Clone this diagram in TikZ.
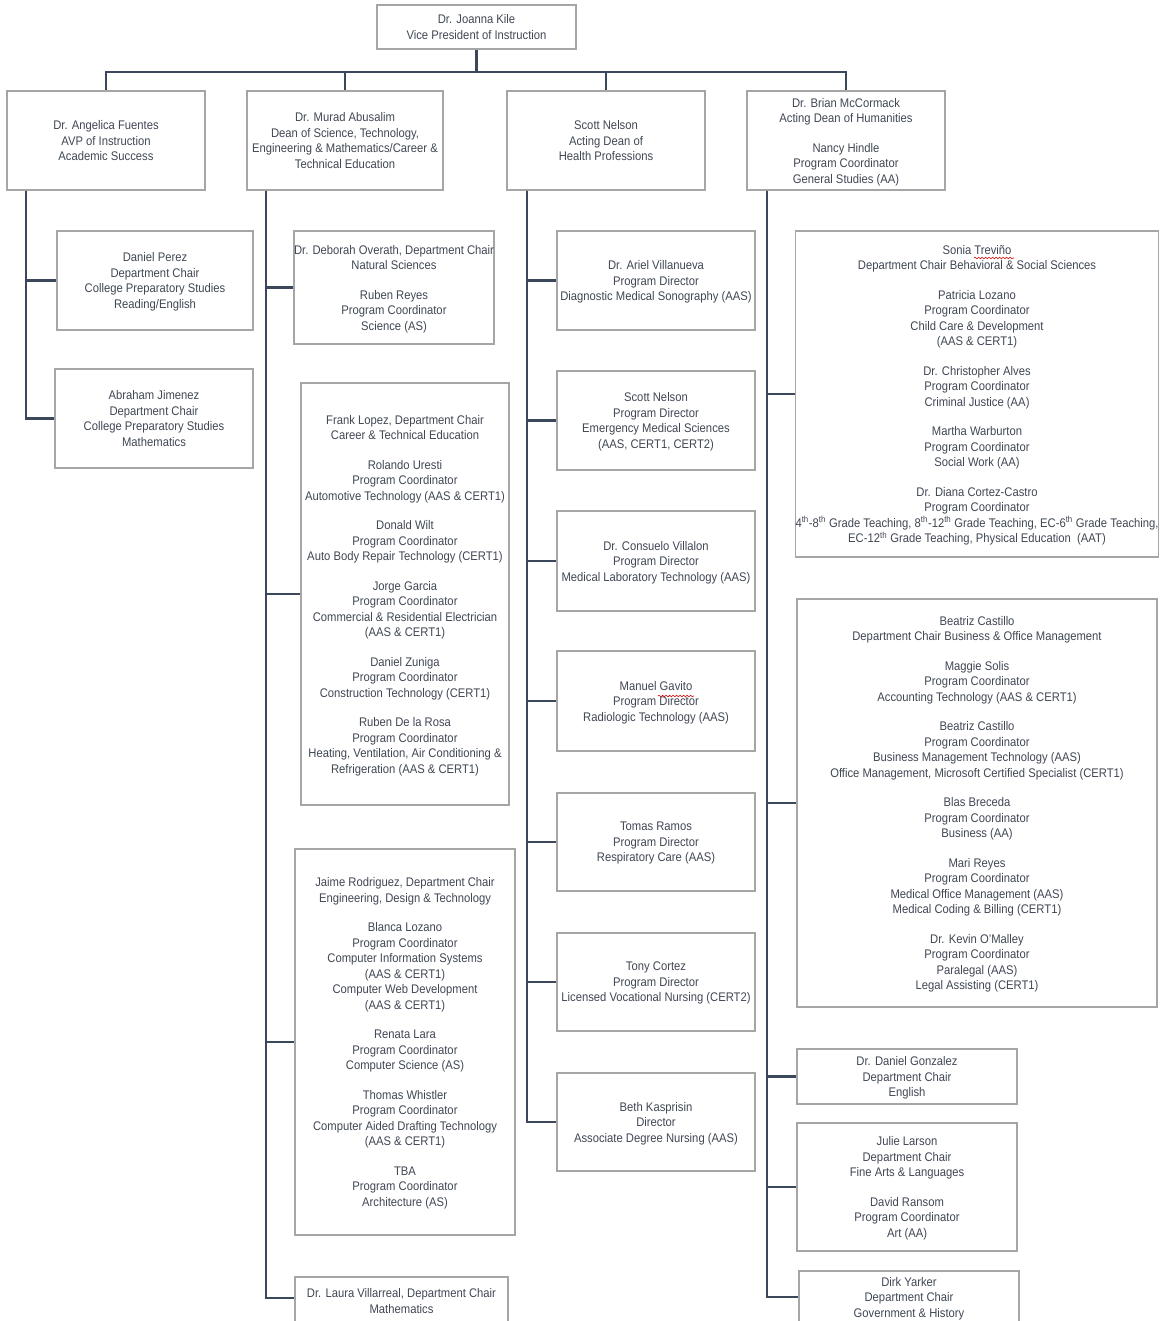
\documentclass[tikz,border=0pt]{standalone}
\usepackage{fontspec}
\setmainfont{Liberation Sans}[FakeStretch=0.9]
\usetikzlibrary{decorations.pathmorphing}
\definecolor{boxgray}{RGB}{166,166,166}
\definecolor{linkslate}{RGB}{59,71,90}
\definecolor{txtslate}{RGB}{64,72,84}
\tikzset{
    box/.style={draw=boxgray,line width=1.5pt,fill=white,inner sep=0pt,align=center,
        text=txtslate,font=\fontsize{12.5}{15.5}\selectfont,text depth=-4pt},
    boxsize/.style 2 args={minimum width=#1pt,minimum height=#2pt},
    link/.style={draw=linkslate,line width=2.4pt},
    squiggle/.style={draw=red!85!black,line width=0.6pt,decorate,
        decoration={snake,amplitude=0.8pt,segment length=3.5pt}}
}

\begin{document}
\begin{tikzpicture}[x=1pt,y=-1pt]
    \useasboundingbox (0,0) rectangle (1159,1321);
    % top
    \node[box,boxsize={199}{44}] (vp) at (476.5,27) {Dr. Joanna Kile\\Vice President of Instruction};
    \node[box,boxsize={198}{99}] (avp) at (106,140.5) {Dr. Angelica Fuentes\\AVP of Instruction\\Academic Success};
    \node[box,boxsize={196}{99}] (stem) at (345,140.5) {Dr. Murad Abusalim\\Dean of Science, Technology,\\Engineering \& Mathematics/Career \&\\Technical Education};
    \node[box,boxsize={198}{99}] (hp) at (606,140.5) {Scott Nelson\\Acting Dean of\\Health Professions};
    \node[box,boxsize={198}{99}] (hum) at (846,140.5) {Dr. Brian McCormack\\Acting Dean of Humanities\\[14pt]Nancy Hindle\\Program Coordinator\\General Studies (AA)};
    % academic success
    \node[box,boxsize={196}{99}] (a1) at (155,280.5) {Daniel Perez\\Department Chair\\College Preparatory Studies\\Reading/English};
    \node[box,boxsize={198}{99}] (a2) at (154,418.5) {Abraham Jimenez\\Department Chair\\College Preparatory Studies\\Mathematics};
    % stem
    \node[box,boxsize={198}{113}] (b1) at (394,287.5) {Dr. Deborah Overath, Department Chair\\Natural Sciences\\[14pt]Ruben Reyes\\Program Coordinator\\Science (AS)};
    \node[box,boxsize={208}{422}] (b2) at (405,594) {Frank Lopez, Department Chair\\Career \& Technical Education\\[14pt]Rolando Uresti\\Program Coordinator\\Automotive Technology (AAS \& CERT1)\\[14pt]Donald Wilt\\Program Coordinator\\Auto Body Repair Technology (CERT1)\\[14pt]Jorge Garcia\\Program Coordinator\\Commercial \& Residential Electrician\\(AAS \& CERT1)\\[14pt]Daniel Zuniga\\Program Coordinator\\Construction Technology (CERT1)\\[14pt]Ruben De la Rosa\\Program Coordinator\\Heating, Ventilation, Air Conditioning \&\\Refrigeration (AAS \& CERT1)};
    \node[box,boxsize={220}{386}] (b3) at (405,1042) {Jaime Rodriguez, Department Chair\\Engineering, Design \& Technology\\[14pt]Blanca Lozano\\Program Coordinator\\Computer Information Systems\\(AAS \& CERT1)\\Computer Web Development\\(AAS \& CERT1)\\[14pt]Renata Lara\\Program Coordinator\\Computer Science (AS)\\[14pt]Thomas Whistler\\Program Coordinator\\Computer Aided Drafting Technology\\(AAS \& CERT1)\\[14pt]TBA\\Program Coordinator\\Architecture (AS)};
    \node[box,boxsize={213}{48}] (b4) at (401.5,1301) {Dr. Laura Villarreal, Department Chair\\Mathematics};
    % health professions
    \node[box,boxsize={198}{99}] (c1) at (656,280.5) {Dr. Ariel Villanueva\\Program Director\\Diagnostic Medical Sonography (AAS)};
    \node[box,boxsize={198}{99}] (c2) at (656,420.5) {Scott Nelson\\Program Director\\Emergency Medical Sciences\\(AAS, CERT1, CERT2)};
    \node[box,boxsize={198}{100}] (c3) at (656,561) {Dr. Consuelo Villalon\\Program Director\\Medical Laboratory Technology (AAS)};
    \node[box,boxsize={198}{100}] (c4) at (656,701) {Manuel Gavito\\Program Director\\Radiologic Technology (AAS)};
    \node[box,boxsize={198}{98}] (c5) at (656,842) {Tomas Ramos\\Program Director\\Respiratory Care (AAS)};
    \node[box,boxsize={198}{98}] (c6) at (656,982) {Tony Cortez\\Program Director\\Licensed Vocational Nursing (CERT2)};
    \node[box,boxsize={198}{98}] (c7) at (656,1122) {Beth Kasprisin\\Director\\Associate Degree Nursing (AAS)};
    % humanities
    \node[box,boxsize={360}{326}] (d1) at (977,394) {Sonia Treviño\\Department Chair Behavioral \& Social Sciences\\[14pt]Patricia Lozano\\Program Coordinator\\Child Care \& Development\\(AAS \& CERT1)\\[14pt]Dr. Christopher Alves\\Program Coordinator\\Criminal Justice (AA)\\[14pt]Martha Warburton\\Program Coordinator\\Social Work (AA)\\[14pt]Dr. Diana Cortez-Castro\\Program Coordinator\\4\textsuperscript{th}-8\textsuperscript{th} Grade Teaching, 8\textsuperscript{th}-12\textsuperscript{th} Grade Teaching, EC-6\textsuperscript{th} Grade Teaching,\\EC-12\textsuperscript{th} Grade Teaching, Physical Education\ \ (AAT)};
    \node[box,boxsize={360}{408}] (d2) at (977,803) {Beatriz Castillo\\Department Chair Business \& Office Management\\[14pt]Maggie Solis\\Program Coordinator\\Accounting Technology (AAS \& CERT1)\\[14pt]Beatriz Castillo\\Program Coordinator\\Business Management Technology (AAS)\\Office Management, Microsoft Certified Specialist (CERT1)\\[14pt]Blas Breceda\\Program Coordinator\\Business (AA)\\[14pt]Mari Reyes\\Program Coordinator\\Medical Office Management (AAS)\\Medical Coding \& Billing (CERT1)\\[14pt]Dr. Kevin O'Malley\\Program Coordinator\\Paralegal (AAS)\\Legal Assisting (CERT1)};
    \node[box,boxsize={220}{55}] (d3) at (907,1076.5) {Dr. Daniel Gonzalez\\Department Chair\\English};
    \node[box,boxsize={220}{128}] (d4) at (907,1187) {Julie Larson\\Department Chair\\Fine Arts \& Languages\\[14pt]David Ransom\\Program Coordinator\\Art (AA)};
    \node[box,boxsize={220}{52}] (d5) at (909,1297) {Dirk Yarker\\Department Chair\\Government \& History};
    % connectors
    \coordinate (bar) at (476.5,72);
    \draw[link] (vp.south) -- (bar);
    \foreach \n in {avp,stem,hp,hum}
        \draw[link] (bar) -| (\n.north);
    \foreach \n in {a1,a2}
        \draw[link] ([xshift=20pt]avp.south west) |- (\n.west);
    \foreach \n in {b1,b2,b3}
        \draw[link] ([xshift=20pt]stem.south west) |- (\n.west);
    \draw[link] ([xshift=20pt]stem.south west) |- ([yshift=3pt]b4.west);
    \foreach \n in {c1,c2,c3,c4,c5,c6,c7}
        \draw[link] ([xshift=21pt]hp.south west) |- (\n.west);
    \foreach \n in {d1,d2,d3,d4,d5}
        \draw[link] ([xshift=21pt]hum.south west) |- (\n.west);
    %spelling marks
    \draw[squiggle] (974,258) -- (1014,258);
    \draw[squiggle] (658,696) -- (694,696);
\end{tikzpicture}
\end{document}
